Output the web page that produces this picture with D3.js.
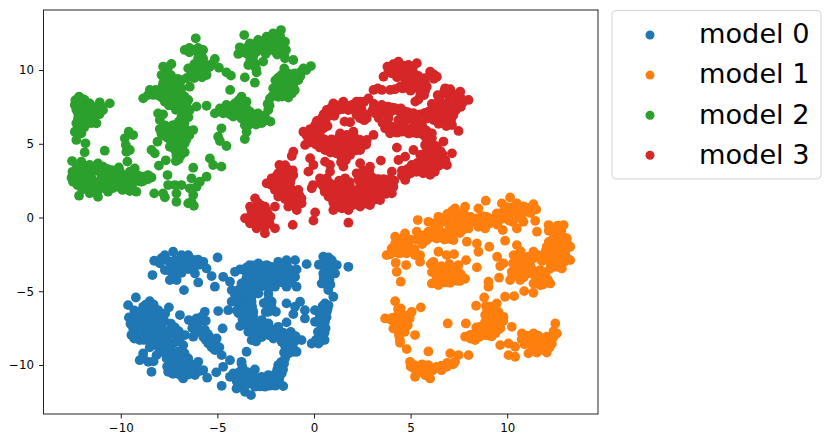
<!DOCTYPE html>
<html><head><meta charset="utf-8">
<script src="https://cdn.jsdelivr.net/npm/d3@7"></script>
<style>html,body{margin:0;padding:0;background:#fff}svg{display:block}text{font-family:"DejaVu Sans",sans-serif}</style>
</head><body><svg id="c" width="830" height="444"></svg>
<script>
const legendLabels=["model 0","model 1","model 2","model 3"];
const colors=["#1f77b4","#ff7f0e","#2ca02c","#d62728"];
const xTicks=[-10,-5,0,5,10];
const yTicks=[-10,-5,0,5,10];
const model0=[[-8.27,-2.93],[-7.72,-2.55],[-7.29,-2.32],[-6.86,-2.55],[-6.51,-2.55],[-7.98,-3.11],[-7.46,-3.0],[-6.94,-3.11],[-6.16,-3.11],[-5.73,-3.0],[-8.36,-3.9],[-7.72,-3.56],[-7.2,-3.56],[-6.25,-3.45],[-5.56,-3.45],[-7.46,-4.24],[-7.11,-4.24],[-6.16,-3.79],[-5.3,-3.97],[-5.99,-4.4],[-6.73,-4.92],[-5.13,-4.69],[-4.99,-2.71],[-9.22,-5.42],[-9.62,-5.94],[-9.58,-6.77],[-8.5,-5.67],[-8.84,-6.05],[-8.06,-6.28],[-7.51,-6.09],[-9.1,-6.61],[-8.58,-6.61],[-8.15,-6.84],[-6.94,-6.61],[-9.36,-7.52],[-8.93,-7.29],[-8.41,-7.41],[-7.89,-7.41],[-7.2,-7.45],[-9.45,-7.97],[-9.02,-8.31],[-8.5,-8.08],[-7.98,-7.97],[-7.55,-8.31],[-7.11,-8.42],[-6.68,-7.97],[-6.77,-8.65],[-8.06,-8.76],[-7.63,-8.99],[-7.03,-9.1],[-8.84,-9.21],[-9.02,-9.67],[-8.58,-9.78],[-8.15,-9.33],[-7.63,-9.55],[-8.41,-10.46],[-7.37,-9.89],[-6.86,-9.67],[-6.51,-9.55],[-7.55,-10.46],[-7.11,-10.57],[-6.77,-10.91],[-6.42,-10.34],[-5.99,-9.78],[-5.73,-10.34],[-6.16,-10.68],[-5.53,-10.86],[-5.06,-10.5],[-4.78,-11.41],[-4.7,-10.12],[-6.48,-6.95],[-6.08,-6.84],[-5.65,-6.39],[-5.99,-7.52],[-5.73,-8.08],[-6.25,-8.08],[-5.47,-8.54],[-5.04,-8.2],[-5.13,-8.99],[-4.78,-9.33],[-4.35,-9.67],[-4.96,-6.34],[-4.73,-7.52],[-4.44,-6.28],[-4.26,-5.71],[-4.26,-4.92],[-4.35,-4.35],[-4.7,-4.02],[-4.09,-3.68],[-3.83,-3.52],[-3.32,-3.22],[-2.88,-3.11],[-2.45,-3.22],[-1.85,-3.0],[-1.42,-2.89],[-0.98,-2.89],[-3.23,-3.79],[-2.71,-3.79],[-2.19,-3.68],[-1.67,-3.56],[-1.16,-3.56],[-0.9,-3.52],[-1.85,-4.24],[-1.33,-4.13],[-0.98,-4.02],[-3.75,-4.47],[-3.23,-4.35],[-2.71,-4.35],[-2.02,-4.69],[-1.42,-4.69],[-0.9,-4.69],[-3.4,-5.03],[-2.88,-5.15],[-2.36,-5.15],[-3.66,-5.71],[-3.23,-5.71],[-2.19,-5.71],[-3.57,-6.39],[-3.14,-6.39],[-2.36,-6.39],[-1.97,-6.39],[-3.83,-7.36],[-3.32,-6.95],[-2.88,-7.18],[-2.36,-7.18],[-1.85,-7.41],[-1.42,-7.11],[-3.23,-8.31],[-2.88,-8.08],[-2.36,-7.97],[-1.85,-8.08],[-1.33,-7.97],[-0.9,-8.31],[-0.64,-8.31],[-1.33,-8.76],[-0.9,-9.1],[-1.67,-8.42],[-3.49,-9.1],[-3.75,-9.78],[-1.42,-5.82],[-0.98,-6.05],[-0.72,-5.71],[-1.07,-6.55],[-0.47,-6.28],[-0.47,-6.84],[0.05,-6.28],[0.05,-7.07],[0.57,-5.82],[0.66,-6.39],[0.57,-7.07],[0.4,-7.52],[0.48,-8.08],[0.23,-8.54],[-0.12,-8.54],[0.48,-2.66],[0.92,-2.89],[1.18,-3.22],[1.78,-3.34],[-0.38,-3.16],[0.48,-3.79],[1.09,-3.79],[0.4,-4.47],[0.74,-4.92],[1.0,-5.37],[-4.18,-10.57],[-4.35,-10.8],[-3.75,-9.89],[-3.49,-10.46],[-3.06,-10.3],[-3.83,-11.02],[-3.23,-11.25],[-2.71,-10.8],[-2.36,-10.68],[-1.85,-10.0],[-1.5,-9.55],[-1.67,-10.57],[-2.02,-11.02],[-1.59,-11.43],[-2.54,-11.47],[-3.06,-11.47],[-4.01,-11.59],[-3.57,-11.81],[-3.26,-12.04],
[-7.6,-2.9],[-7.2,-2.9],[-6.8,-2.9],[-7.4,-3.35],[-6.6,-3.2],[-6.5,-3.5],[-7.3,-3.9],[-5.95,-3.2],[-8.6,-6.1],[-8.3,-6.3],[-8.8,-6.6],[-8.35,-6.7],[-8.9,-6.95],[-8.5,-7.0],[-8.1,-7.15],[-7.75,-7.0],[-9.15,-7.3],[-8.7,-7.5],[-8.1,-7.6],[-7.7,-7.7],[-9.2,-7.75],[-8.7,-7.9],[-8.3,-7.9],[-7.7,-8.15],[-8.2,-8.3],[-7.85,-8.4],[-8.8,-8.3],[-7.35,-8.6],[-7.75,-8.7],[-7.5,-9.3],[-7.2,-9.4],[-6.9,-9.95],[-7.3,-10.2],[-6.9,-10.3],[-6.6,-10.0],[-6.35,-9.95],[-6.1,-10.2],[-6.5,-10.65],[-7.0,-9.4],[-6.7,-9.2],[-8.85,-9.5],[-8.3,-9.75],[-6.2,-7.2],[-5.9,-7.0],[-5.85,-7.8],[-5.6,-8.3],[-5.3,-8.8],[-6.05,-7.5],[-5.65,-7.6],[-3.6,-3.6],[-3.0,-3.5],[-2.6,-3.5],[-2.2,-3.35],[-1.8,-3.35],[-1.4,-3.25],[-3.5,-4.1],[-3.0,-4.05],[-2.5,-4.05],[-2.1,-4.05],[-1.6,-3.95],[-1.3,-3.85],[-1.65,-4.4],[-1.15,-4.4],[-3.55,-4.75],[-3.15,-4.8],[-2.65,-4.65],[-3.9,-4.9],[-3.5,-5.35],[-3.2,-5.3],[-3.9,-5.4],[-3.5,-6.0],[-3.2,-6.05],[-3.85,-6.05],[-3.55,-6.7],[-3.15,-6.7],[-2.7,-6.95],[-3.5,-7.3],[-3.1,-7.4],[-2.65,-7.5],[-2.1,-7.6],[-2.6,-7.9],[-3.0,-8.4],[-1.6,-7.8],[-1.6,-8.1],[-1.1,-8.3],[-1.1,-8.7],[-1.5,-8.7],[-3.4,-7.75],[-3.9,-10.5],[-3.9,-10.8],[-3.5,-10.9],[-3.1,-10.8],[-2.8,-11.1],[-2.4,-11.1],[-2.0,-10.6],[-1.7,-10.1],[-1.7,-9.8],[-3.5,-11.3],[-2.0,-11.4],[-3.6,-11.5],[-1.55,-9.9],[0.45,-6.0],[0.3,-6.7],[0.4,-7.3],[0.6,-7.5],[0.3,-8.0],[0.1,-8.3],[0.55,-7.8],[0.75,-5.95],[0.7,-3.3],[1.0,-3.3],[0.6,-3.0],[0.8,-3.55],[0.5,-4.1],[0.8,-4.2],[0.25,-3.2],
[-9.3,-6.3],[-9.3,-6.9],[-9.5,-7.2],[-9.0,-7.7],[-9.3,-8.2],[-8.4,-8.5],[-9.0,-6.4],[-8.7,-5.9],[-8.3,-5.9],[-8.0,-6.6],[-7.7,-6.5],[-7.8,-8.0],[-7.4,-7.2],[-7.5,-7.8],[-7.2,-7.9],[-7.0,-7.7],[-6.95,-8.2],[-8.5,-8.8],[-7.9,-9.1],[-7.4,-9.1],[-6.75,-9.5],[-7.1,-9.8],[-7.6,-10.1],[-7.3,-10.6],[-6.6,-10.4],[-6.3,-10.4],[-6.9,-10.7],[-5.9,-10.4],[-6.3,-7.5],[-5.6,-7.0],[-5.8,-6.7],[-5.4,-8.1],[-5.1,-8.5],[-4.9,-8.8],[-5.5,-7.9],[-6.3,-2.85],[-6.0,-2.85],[-7.9,-2.75],[-7.5,-3.6],[-7.0,-3.4],[-6.85,-3.75],[-3.5,-3.4],[-3.1,-3.25],[-2.7,-3.3],[-3.4,-4.4],[-3.0,-4.6],[-2.5,-4.4],[-2.25,-4.4],[-1.95,-3.8],[-2.3,-4.7],[-1.2,-4.4],[-3.95,-5.7],[-3.6,-5.2],[-3.3,-5.5],[-3.65,-6.35],[-3.9,-6.5],[-3.45,-6.95],[-3.1,-7.1],[-4.1,-5.2],[-4.0,-6.3],[-3.7,-6.9],[-3.2,-7.0],[-2.35,-5.5],[-2.2,-6.05],[-2.6,-5.8],[-2.5,-6.4],[-3.3,-7.7],[-2.95,-7.7],[-2.3,-7.6],[-1.95,-7.85],[-3.05,-8.05],[-2.7,-8.1],[-2.1,-8.2],[-1.5,-8.35],[-1.2,-7.75],[-0.95,-8.05],[-1.25,-8.35],[-1.55,-9.15],[-1.3,-9.2],[-1.05,-9.1],[-3.7,-10.15],[-3.3,-10.7],[-3.0,-11.1],[-2.6,-10.95],[-2.2,-10.9],[-1.8,-10.9],[-1.8,-11.2],[-2.3,-11.4],[-2.8,-11.45],[-3.7,-11.1],[-4.0,-11.1],[-1.6,-10.3],[-1.9,-10.3],[0.35,-6.3],[0.7,-6.2],[0.65,-6.75],[0.3,-7.15],[0.5,-7.35],[0.2,-7.75],[0.55,-8.3],[0.35,-8.35],[0.75,-2.7],[0.6,-3.5],[0.4,-3.2],[0.95,-3.1],[0.75,-3.85],[0.55,-4.5],[0.85,-4.55]];
const model1=[[5.37,-0.17],[3.76,-2.55],[4.2,-1.3],[4.71,-1.08],[4.02,-2.09],[4.45,-1.76],[4.89,-1.87],[5.32,-0.96],[4.37,-2.43],[4.8,-2.43],[5.23,-2.55],[5.49,-2.55],[5.92,-0.29],[6.44,0.05],[5.92,-0.96],[6.44,-0.63],[6.87,-0.06],[7.3,0.62],[7.82,0.73],[6.79,-1.08],[6.35,-1.42],[5.84,-1.53],[7.22,-1.53],[7.39,-0.17],[7.82,-0.06],[7.39,-0.85],[8.0,-0.74],[8.51,0.62],[8.89,1.14],[8.43,-0.06],[8.94,0.05],[9.46,0.28],[9.72,0.96],[10.15,1.36],[11.36,0.91],[10.93,0.39],[10.5,0.96],[10.15,0.28],[10.84,-0.29],[10.5,-0.74],[9.77,-0.85],[11.45,-0.22],[11.54,-0.96],[8.86,-0.74],[8.51,-0.63],[7.91,-1.64],[8.43,-1.76],[8.51,-2.32],[9.07,-1.98],[9.89,-1.57],[9.48,-2.66],[9.64,-3.29],[8.43,-3.38],[7.87,-2.89],[4.23,-3.07],[4.28,-3.68],[4.49,-4.35],[4.77,-3.22],[5.49,-3.0],[6.44,-2.32],[6.87,-2.55],[7.25,-2.48],[6.18,-3.0],[6.61,-3.56],[7.13,-3.45],[7.48,-3.22],[6.35,-4.02],[6.87,-4.13],[7.39,-4.02],[7.82,-4.15],[6.1,-4.47],[6.44,-4.58],[7.05,-4.42],[12.14,-0.51],[12.92,-0.51],[12.57,-0.96],[13.09,-1.42],[13.26,-1.98],[12.66,-1.64],[12.05,-1.98],[12.31,-2.43],[13.26,-2.89],[12.83,-3.45],[12.31,-2.89],[12.23,-3.45],[10.5,-1.87],[10.33,-2.55],[11.36,-2.32],[10.84,-2.77],[10.24,-3.68],[10.76,-3.56],[11.19,-3.22],[11.71,-3.56],[10.15,-4.24],[10.67,-4.24],[11.54,-4.13],[12.23,-4.47],[11.36,-4.47],[11.71,-4.58],[10.88,-4.99],[11.36,-5.1],[9.81,-3.11],[9.58,-4.08],[9.03,-4.35],[9.03,-4.69],[8.81,-5.42],[9.89,-5.37],[10.36,-5.33],[8.39,-5.98],[9.46,-5.82],[9.12,-6.05],[8.86,-6.61],[9.29,-6.73],[9.81,-6.73],[8.6,-7.41],[9.03,-7.41],[9.55,-7.18],[10.24,-7.41],[8.34,-7.86],[8.86,-7.97],[9.38,-7.86],[7.82,-8.08],[8.34,-8.31],[7.86,-7.18],[6.92,-7.18],[10.07,-8.54],[9.64,-8.65],[10.41,-8.76],[10.76,-7.86],[11.36,-7.86],[11.1,-8.42],[11.62,-8.31],[12.05,-8.08],[12.49,-7.18],[12.57,-7.86],[12.31,-8.54],[12.05,-9.15],[11.54,-9.15],[11.1,-9.21],[10.41,-9.44],[10.07,-9.33],[4.2,-5.67],[4.49,-6.16],[5.06,-6.39],[5.53,-6.09],[3.68,-6.84],[4.2,-6.95],[4.71,-7.07],[4.11,-7.52],[4.45,-7.74],[5.23,-7.97],[4.45,-8.31],[4.8,-8.92],[5.92,-9.08],[4.97,-9.78],[5.4,-10.12],[5.23,-10.8],[5.92,-10.0],[5.75,-10.68],[6.01,-10.91],[6.35,-10.12],[6.87,-10.12],[7.05,-9.21],[7.48,-9.33],[8.0,-9.33],[7.3,-9.78],
[4.5,-2.1],[4.75,-2.15],[4.2,-2.35],[4.6,-1.4],[5.0,-1.5],[5.3,-1.5],[5.7,-1.2],[5.6,-1.8],[6.1,-1.1],[6.2,-0.4],[6.6,-0.3],[6.6,-1.0],[7.0,-0.5],[7.0,-0.9],[7.0,-1.45],[6.75,-1.5],[7.2,0.1],[7.6,0.3],[7.6,-0.4],[7.95,-0.3],[8.2,-0.3],[7.55,-1.05],[8.65,-0.3],[9.1,-0.4],[9.3,-0.1],[9.7,-0.1],[9.75,0.35],[10.0,0.7],[10.3,0.7],[10.5,0.35],[10.85,0.75],[11.1,0.65],[10.75,-0.1],[10.3,-0.3],[8.95,-0.3],[6.5,-3.9],[6.8,-3.7],[7.1,-3.85],[7.45,-3.6],[6.7,-4.4],[6.9,-4.4],[7.4,-4.3],[6.3,-3.5],[6.6,-4.2],[12.4,-0.8],[12.8,-0.9],[12.9,-1.3],[12.4,-1.4],[12.9,-1.75],[12.4,-1.9],[12.8,-2.3],[13.0,-2.4],[12.0,-2.6],[12.6,-2.85],[12.95,-3.0],[12.55,-3.35],[11.8,-2.95],[11.4,-2.75],[11.1,-2.65],[10.7,-2.3],[10.65,-3.05],[11.05,-3.8],[11.4,-3.9],[10.5,-3.9],[10.85,-4.05],[11.85,-4.05],[12.0,-3.7],[10.4,-3.3],[12.1,-4.2],[11.85,-4.55],[9.1,-6.3],[9.3,-6.2],[9.05,-6.9],[8.85,-7.1],[9.45,-7.35],[8.6,-7.8],[9.1,-7.75],[9.05,-8.0],[8.55,-8.1],[8.1,-7.95],[9.7,-6.95],[9.3,-7.1],[10.9,-8.15],[11.3,-8.15],[11.4,-8.6],[11.8,-8.6],[12.2,-8.25],[12.4,-7.7],[10.9,-8.6],[11.7,-8.95],[12.2,-8.8],[11.3,-8.9],[4.35,-6.6],[4.75,-6.65],[4.5,-7.2],[4.25,-7.3],[4.85,-7.3],[4.55,-7.5],[4.4,-8.0],[4.0,-6.95],[5.2,-10.0],[5.6,-10.2],[5.4,-10.5],[5.95,-10.35],[6.6,-10.05],[6.9,-9.85],[7.2,-9.95],[5.15,-10.2],
[4.2,-1.75],[4.7,-1.75],[3.95,-2.5],[4.55,-2.4],[5.0,-2.2],[5.2,-2.15],[5.6,-1.4],[5.95,-1.4],[6.2,-0.85],[6.45,-1.25],[6.9,-1.25],[7.15,-1.2],[6.5,0.0],[6.9,0.25],[7.15,0.45],[7.45,0.0],[7.75,0.3],[8.1,0.05],[7.25,-0.55],[7.75,-0.8],[8.7,0.1],[9.2,-0.1],[9.5,-0.5],[9.45,-0.05],[9.9,0.0],[10.1,-0.2],[10.6,0.1],[11.2,0.3],[11.5,0.55],[6.1,-3.7],[6.35,-4.3],[6.6,-3.3],[7.0,-3.15],[7.3,-3.7],[7.6,-3.85],[6.05,-3.15],[6.9,-4.15],[7.55,-4.3],[12.15,-0.9],[12.6,-0.55],[13.1,-1.75],[13.0,-2.0],[12.65,-2.1],[12.15,-1.65],[12.0,-2.25],[11.85,-2.55],[11.6,-2.55],[11.0,-2.95],[10.95,-3.35],[10.45,-2.85],[10.3,-3.1],[10.25,-4.0],[10.55,-3.65],[11.3,-3.55],[11.7,-3.9],[12.2,-3.0],[12.7,-3.15],[13.1,-2.75],[13.0,-2.65],[12.45,-2.55],[10.9,-3.7],[8.9,-6.0],[9.4,-6.45],[8.95,-6.35],[9.55,-6.4],[9.3,-6.5],[9.0,-7.15],[9.3,-7.55],[8.7,-7.6],[8.4,-7.45],[9.65,-7.5],[8.3,-8.1],[8.1,-8.2],[9.55,-7.6],[9.2,-8.05],[9.8,-7.0],[10.75,-8.25],[11.0,-8.0],[11.6,-8.0],[11.95,-8.4],[12.4,-8.1],[12.0,-8.8],[11.5,-8.85],[11.25,-8.2],[12.5,-7.9],[4.05,-6.8],[4.5,-6.6],[4.6,-6.85],[4.3,-7.1],[4.65,-7.3],[4.35,-7.7],[4.7,-7.75],[4.95,-6.85],[4.35,-6.2],[4.45,-8.5],[5.0,-10.1],[5.3,-10.35],[5.6,-9.95],[6.15,-10.35],[6.6,-10.35]];
const model2=[[-12.16,8.19],[-11.87,7.97],[-12.38,7.63],[-12.04,7.63],[-11.61,7.74],[-11.09,7.81],[-10.57,7.74],[-12.13,7.18],[-11.69,7.29],[-11.26,7.29],[-10.92,7.29],[-12.21,6.72],[-11.78,6.72],[-11.43,6.72],[-12.3,6.39],[-11.69,6.39],[-11.26,6.39],[-12.38,5.82],[-12.04,5.71],[-12.3,5.26],[-11.83,5.03],[-11.87,4.42],[-12.52,3.83],[-10.83,4.53],[-12.04,3.79],[-11.61,3.56],[-11.18,3.67],[-12.3,3.33],[-11.87,3.22],[-11.43,3.11],[-10.92,3.45],[-10.48,3.22],[-10.05,3.11],[-9.53,3.11],[-9.28,3.33],[-9.66,3.79],[-12.38,2.88],[-11.95,2.66],[-11.52,2.66],[-11.0,2.77],[-10.57,2.66],[-10.14,2.66],[-9.71,2.66],[-9.19,2.66],[-8.84,2.77],[-8.59,2.88],[-8.41,2.72],[-12.47,2.43],[-12.04,2.2],[-11.61,2.09],[-11.09,2.2],[-10.66,2.2],[-10.23,2.32],[-9.79,2.32],[-9.36,2.32],[-8.93,2.43],[-12.16,1.48],[-11.61,1.64],[-11.18,1.41],[-10.66,1.75],[-9.91,1.87],[-9.53,1.8],[-9.19,1.75],[-9.59,5.82],[-9.36,5.59],[-9.79,5.37],[-9.74,4.92],[-9.53,4.58],[-9.71,4.46],[-8.41,4.58],[-8.24,4.35],[-8.1,5.14],[-7.67,3.88],[-8.03,3.52],[-7.58,2.88],[-8.27,1.64],[-7.81,1.64],[-7.72,1.37],[-7.55,2.2],[-7.2,2.2],[-6.86,2.2],[-7.12,1.64],[-7.12,1.07],[-6.25,3.38],[-6.34,2.66],[-5.91,2.43],[-5.56,2.77],[-6.08,2.09],[-6.43,1.98],[-6.25,1.53],[-6.34,1.07],[-6.51,0.96],[-6.22,0.8],[-5.39,4.01],[-5.22,3.56],[-4.79,3.45],[-4.79,6.05],[-4.96,5.48],[-4.87,5.19],[-4.53,4.85],[-7.72,5.93],[-7.29,6.27],[-6.86,6.16],[-6.25,5.93],[-7.98,6.0],[-7.55,5.37],[-7.12,5.59],[-6.69,5.48],[-7.46,4.8],[-7.03,4.92],[-6.69,5.03],[-6.69,4.42],[-7.12,4.24],[-7.15,3.83],[-6.86,6.84],[-6.69,6.95],[-8.07,7.06],[-7.81,7.0],[-7.98,6.61],[-7.81,10.23],[-7.38,10.41],[-7.89,9.66],[-7.63,9.78],[-7.81,9.1],[-7.38,9.21],[-6.86,9.32],[-6.43,8.87],[-8.5,8.65],[-8.84,8.08],[-8.33,8.31],[-7.98,8.53],[-7.55,8.53],[-7.12,8.53],[-7.72,7.85],[-7.29,7.97],[-6.94,7.85],[-6.51,7.97],[-6.86,7.4],[-6.43,7.29],[-6.08,7.52],[-5.56,7.58],[-7.72,8.87],[-7.29,8.87],[-6.86,8.76],[-6.12,12.15],[-6.69,11.36],[-6.25,11.36],[-5.74,11.36],[-6.0,10.79],[-5.74,10.79],[-6.51,10.11],[-6.0,10.23],[-5.56,10.23],[-6.0,9.66],[-5.56,9.66],[-6.43,9.55],[-5.13,10.75],[-4.92,10.16],[-4.53,9.84],[-4.3,9.62],[-4.34,8.65],[-3.58,9.5],[-3.06,9.14],[-3.61,12.37],[-3.84,11.54],[-3.92,11.09],[-3.32,11.81],[-2.89,12.04],[-2.45,12.26],[-2.11,12.49],[-1.71,12.71],[-3.15,11.47],[-2.71,11.7],[-2.28,11.81],[-1.85,11.92],[-1.5,11.92],[-3.32,11.02],[-2.8,11.36],[-2.28,11.36],[-1.76,11.24],[-1.45,11.36],[-3.4,10.34],[-3.15,10.34],[-2.97,9.84],[-2.63,10.57],[-1.5,10.79],[-1.07,10.68],[-0.16,10.27],[-0.55,10.11],[-0.99,9.78],[-1.54,10.11],[-1.85,9.48],[-1.24,9.44],[-0.81,9.32],[-1.59,8.98],[-1.07,8.87],[-2.11,8.76],[-1.59,8.42],[-0.99,8.64],[-2.28,8.08],[-1.85,8.19],[-1.33,8.13],[-2.37,7.29],[-5.13,7.06],[-4.87,7.4],[-4.53,7.63],[-4.1,7.74],[-3.75,8.19],[-3.49,7.85],[-4.7,7.06],[-4.27,7.18],[-3.84,7.29],[-3.32,7.18],[-2.89,7.06],[-4.18,6.84],[-3.75,6.72],[-3.32,6.61],[-2.89,6.39],[-2.45,6.61],[-2.25,6.5],[-3.58,6.27],[-3.49,5.82],[-3.58,5.32],[-2.8,6.84],
[-12.2,7.4],[-11.85,7.4],[-11.45,7.5],[-11.9,7.0],[-11.5,7.0],[-11.1,7.0],[-12.2,7.0],[-12.0,6.45],[-11.9,6.1],[-12.2,6.1],[-12.1,3.5],[-11.7,3.2],[-11.3,3.4],[-10.7,3.3],[-10.3,3.0],[-9.9,2.9],[-9.4,2.9],[-12.2,3.0],[-11.9,2.9],[-11.7,2.9],[-12.2,2.6],[-11.7,2.4],[-11.3,2.4],[-10.85,2.45],[-10.4,2.45],[-9.95,2.5],[-9.5,2.5],[-9.1,2.5],[-12.25,2.2],[-11.85,2.0],[-11.35,2.0],[-10.9,2.0],[-12.0,1.9],[-7.5,6.0],[-7.1,6.0],[-6.6,5.9],[-7.3,5.6],[-6.9,5.3],[-7.3,5.1],[-6.45,5.6],[-7.2,4.6],[-6.9,4.6],[-6.9,4.2],[-7.0,6.5],[-6.7,6.4],[-7.9,5.7],[-8.1,8.3],[-7.75,8.2],[-7.4,8.2],[-7.1,8.2],[-6.8,8.3],[-8.6,8.3],[-7.5,7.6],[-7.2,7.6],[-6.7,7.6],[-7.6,9.5],[-7.5,9.0],[-7.1,9.0],[-7.6,10.0],[-7.75,9.4],[-7.05,9.4],[-6.65,7.55],[-6.45,11.2],[-6.0,11.15],[-5.85,11.0],[-5.9,10.5],[-5.7,10.5],[-6.2,10.1],[-5.75,9.95],[-6.2,9.7],[-5.8,9.5],[-6.2,9.45],[-6.6,9.45],[-5.3,10.4],[-3.0,11.8],[-2.6,12.0],[-2.3,12.1],[-2.0,12.1],[-1.75,12.3],[-3.5,11.5],[-3.0,11.2],[-2.5,11.5],[-2.05,11.5],[-1.6,11.6],[-3.15,10.9],[-3.2,10.6],[-3.0,10.1],[-2.5,11.1],[-1.9,11.05],[-1.55,11.05],[-1.9,9.1],[-1.6,9.4],[-1.2,9.15],[-0.7,9.6],[-1.35,9.75],[-1.85,8.6],[-1.35,8.55],[-2.0,8.35],[-2.4,7.7],[-1.6,8.75],[-1.0,9.2],[-0.4,10.0],[-4.6,7.35],[-4.3,7.45],[-4.0,7.45],[-3.7,7.6],[-3.9,7.95],[-3.5,7.4],[-3.05,7.0],[-4.05,7.1],[-3.6,6.95],[-3.1,6.7],[-3.5,6.5],[-2.7,6.4],[-2.6,6.7],[-3.0,6.3],
[-12.5,3.1],[-12.55,2.7],[-12.1,2.5],[-11.8,2.5],[-12.3,2.7],[-11.7,3.5],[-10.8,3.0],[-10.6,3.0],[-10.1,3.4],[-10.9,2.6],[-9.3,3.0],[-10.0,2.0],[-10.4,2.0],[-11.2,1.8],[-10.3,2.8],[-9.1,2.85],[-8.8,2.5],[-8.6,2.6],[-9.75,2.1],[-11.55,1.85],[-12.15,2.85],[-11.15,3.15],[-12.35,7.95],[-12.0,8.05],[-12.3,7.3],[-12.0,6.95],[-11.65,7.05],[-11.45,7.15],[-11.0,7.5],[-12.1,6.4],[-11.5,6.4],[-12.05,6.75],[-11.95,7.25],[-7.7,5.5],[-7.4,5.7],[-7.7,6.25],[-7.3,5.35],[-7.0,5.65],[-6.6,5.3],[-7.2,4.9],[-6.8,4.85],[-7.25,5.95],[-6.85,5.8],[-6.4,5.85],[-7.0,4.4],[-7.0,3.95],[-6.95,6.3],[-8.2,8.65],[-7.9,8.15],[-7.55,7.85],[-7.1,7.85],[-6.7,8.2],[-7.5,8.8],[-7.05,8.7],[-7.85,8.85],[-7.6,9.25],[-7.55,10.2],[-7.4,9.65],[-7.0,8.3],[-6.6,7.7],[-7.15,7.3],[-6.5,6.8],[-6.65,7.2],[-6.45,11.5],[-6.0,11.5],[-5.85,10.1],[-5.9,9.8],[-6.2,10.4],[-5.4,10.2],[-6.3,9.75],[-3.0,11.5],[-2.6,11.85],[-2.2,11.6],[-1.9,11.7],[-1.7,11.55],[-2.0,11.25],[-2.45,11.55],[-3.4,11.2],[-3.55,11.15],[-3.3,10.7],[-3.05,10.45],[-2.15,12.2],[-1.7,9.65],[-1.25,9.7],[-0.95,9.5],[-0.7,9.85],[-1.45,9.1],[-1.3,8.85],[-1.8,8.85],[-1.9,8.3],[-1.65,8.2],[-2.15,8.25],[-1.15,8.4],[-2.0,9.3],[-2.3,7.6],[-4.6,7.15],[-4.05,7.3],[-3.65,7.15],[-3.05,6.85],[-3.85,7.0],[-3.5,6.75],[-3.4,6.25],[-3.05,6.5],[-2.65,6.55],[-4.35,7.0],[-3.95,7.65],[-2.55,6.9],[-3.7,7.85]];
const model3=[[-3.57,-0.05],[-3.31,0.74],[-3.05,1.3],[-3.23,0.29],[-2.88,0.51],[-2.54,0.74],[-2.02,0.74],[-3.31,-0.39],[-2.88,-0.28],[-2.45,-0.17],[-2.02,-0.73],[-2.54,-1.07],[-2.97,-0.73],[-2.45,2.32],[-2.19,2.66],[-1.79,3.56],[-1.85,3.0],[-1.41,3.34],[-2.02,1.87],[-1.59,2.43],[-1.07,2.89],[-1.24,2.32],[-0.81,1.87],[-1.85,1.42],[-1.41,1.64],[-0.98,1.3],[-0.64,0.96],[-0.89,0.51],[-1.33,0.74],[-1.07,4.47],[-1.15,4.17],[0.06,0.35],[-0.03,-0.21],[-1.1,-0.5],[1.78,-0.35],[-0.12,1.98],[0.31,2.66],[0.66,2.66],[0.49,2.09],[0.92,1.87],[1.35,2.09],[1.61,2.66],[1.87,2.09],[0.75,1.42],[1.18,1.3],[1.61,1.42],[2.04,1.42],[1.0,0.51],[1.44,0.63],[1.78,0.51],[2.39,0.74],[2.9,0.85],[3.42,1.19],[4.03,1.64],[4.11,2.09],[2.56,1.64],[2.99,1.64],[3.51,1.87],[3.85,2.32],[2.99,2.32],[2.56,2.21],[2.21,3.0],[2.39,3.68],[2.9,3.45],[2.9,2.89],[2.39,2.32],[-0.2,4.02],[-0.03,3.56],[-0.29,3.11],[0.57,3.79],[0.83,3.56],[0.83,3.11],[1.52,3.45],[3.46,3.86],[4.03,3.11],[4.55,3.18],[4.29,4.74],[4.37,3.9],[4.72,4.13],[4.72,2.55],[5.15,4.58],[5.06,3.56],[5.58,3.45],[6.01,2.89],[5.75,4.92],[6.1,4.58],[6.7,5.15],[6.45,3.9],[7.14,4.35],[6.88,3.56],[5.93,3.9],[5.5,4.24],[6.27,3.34],[-0.55,5.82],[-0.46,4.92],[-0.03,5.48],[0.4,5.26],[0.83,5.03],[1.26,5.37],[1.7,5.26],[2.04,5.82],[2.39,5.26],[2.73,5.26],[3.08,5.6],[0.92,4.58],[1.44,4.58],[1.96,4.69],[2.39,4.58],[1.44,4.02],[1.87,4.24],[0.57,4.58],[0.06,6.27],[0.4,6.73],[0.66,7.29],[1.0,7.74],[1.52,7.86],[1.96,7.63],[2.39,7.86],[0.83,6.95],[1.26,7.29],[1.78,7.29],[0.49,6.05],[2.39,6.73],[2.56,7.07],[1.87,6.46],[1.58,6.5],[3.08,8.65],[3.51,8.65],[3.94,8.65],[4.46,8.87],[4.98,8.87],[2.82,8.08],[3.08,7.41],[3.51,7.63],[3.85,7.52],[3.16,7.07],[2.73,6.73],[3.34,6.95],[4.2,7.41],[4.72,7.18],[5.15,7.07],[5.58,8.65],[5.24,7.86],[5.67,9.21],[3.85,6.73],[4.03,6.16],[3.68,6.05],[4.37,6.61],[4.8,6.61],[5.24,6.39],[3.94,5.71],[4.55,5.82],[5.06,6.05],[5.75,5.94],[6.1,5.71],[6.1,5.37],[5.32,5.71],[4.37,10.57],[3.8,10.23],[3.6,9.55],[4.03,9.78],[4.89,10.34],[5.32,10.46],[4.55,9.89],[5.06,9.66],[5.5,9.33],[6.01,9.89],[6.36,9.55],[4.72,9.33],[5.24,9.1],[5.84,8.87],[6.79,8.76],[6.45,7.86],[5.93,7.18],[6.45,7.18],[6.96,7.29],[6.19,6.61],[6.7,6.61],[7.14,6.27],[7.48,5.87],[7.14,8.42],[7.57,8.53],[8.0,7.97],[7.4,7.63],[7.22,6.95],[6.88,7.74],
[-3.1,0.2],[-2.7,0.2],[-2.4,0.3],[-3.1,-0.2],[-2.65,-0.4],[-2.3,-0.4],[-2.7,0.8],[-2.9,1.0],[-1.6,3.0],[-1.85,2.5],[-1.4,2.8],[-2.0,2.3],[-1.6,1.95],[-1.15,1.9],[-1.5,1.25],[-1.2,1.3],[-0.95,0.95],[-1.2,0.95],[-1.6,3.3],[0.85,2.3],[1.2,1.7],[1.55,1.85],[1.0,1.0],[1.4,1.0],[1.8,1.0],[2.2,1.1],[0.55,1.75],[2.3,1.9],[2.65,1.2],[3.1,1.2],[3.0,2.0],[3.3,2.2],[2.7,1.9],[3.7,1.6],[3.8,2.0],[2.7,2.7],[2.55,3.2],[3.35,2.6],[3.9,2.6],[1.3,2.5],[1.65,2.2],[1.85,1.7],[5.0,3.0],[5.3,3.1],[5.65,3.0],[5.9,3.4],[6.2,3.9],[6.3,4.3],[6.65,4.3],[6.0,4.2],[5.55,3.8],[5.2,3.2],[6.45,3.5],[5.85,4.6],[6.4,4.65],[6.8,3.9],[0.1,5.2],[0.5,5.0],[0.9,5.3],[1.2,4.95],[1.55,4.95],[1.9,5.1],[2.1,5.45],[1.7,5.6],[1.35,5.7],[1.1,4.6],[1.7,4.3],[1.65,3.9],[2.2,4.95],[0.3,5.7],[-0.3,5.4],[2.7,4.95],[0.6,4.7],[0.25,6.3],[0.6,6.6],[0.95,7.05],[1.3,7.6],[1.75,7.55],[2.15,7.6],[0.7,6.2],[2.2,7.2],[2.45,7.4],[-0.2,6.0],[0.2,5.9],[2.6,7.85],[3.3,7.3],[3.75,7.25],[4.4,7.2],[4.0,7.2],[4.9,6.9],[5.3,6.7],[4.6,6.9],[3.6,7.1],[3.35,6.75],[4.3,6.1],[4.65,6.2],[5.6,6.2],[4.3,5.75],[4.9,5.7],[5.6,5.65],[5.85,5.6],[4.1,10.4],[4.6,10.3],[5.1,10.1],[4.3,9.5],[4.8,9.6],[5.2,9.4],[4.9,9.0],[5.3,8.8],[5.4,9.6],[4.95,9.35],[5.75,8.6],[5.5,8.3],[5.4,8.0],[5.0,8.6],[6.2,9.7],[6.8,8.4],[6.5,8.0],[6.1,7.7],[6.2,7.4],[6.7,7.35],[7.1,7.0],[6.55,6.9],[6.0,6.8],[6.45,6.35],[6.85,6.2],[7.1,6.65],[5.8,6.7],[7.6,8.1],[7.45,7.9],[7.2,7.3],[6.4,7.6],
[-3.3,0.0],[-2.8,0.0],[-2.45,0.45],[-2.25,0.05],[-3.0,0.5],[-2.55,-0.65],[-2.8,-0.5],[-3.25,0.55],[-2.2,2.2],[-1.95,2.8],[-1.7,2.7],[-1.2,2.6],[-1.6,1.65],[-1.85,1.7],[-1.3,1.95],[-1.05,1.6],[-0.75,1.5],[-0.65,1.3],[-1.1,3.2],[-1.55,2.2],[-1.3,1.0],[-1.5,3.55],[-0.05,2.2],[0.35,2.3],[0.6,2.4],[0.65,2.0],[0.8,1.75],[1.0,1.6],[1.4,1.35],[0.95,1.25],[1.25,0.8],[1.55,0.75],[1.6,1.1],[2.0,0.85],[2.0,1.15],[2.35,1.35],[2.7,0.95],[2.25,1.65],[2.9,1.5],[3.25,1.55],[3.25,1.85],[3.55,2.2],[3.9,1.75],[2.8,2.5],[3.1,2.65],[3.6,2.6],[3.65,2.35],[4.15,2.5],[1.5,2.3],[1.85,2.4],[1.6,2.0],[1.1,2.2],[0.8,2.0],[2.5,2.7],[2.45,3.0],[2.85,3.2],[2.3,2.6],[4.8,2.85],[4.55,2.85],[4.85,3.3],[5.35,3.4],[5.35,3.7],[5.8,3.15],[5.8,3.75],[6.1,3.65],[6.1,4.0],[5.7,4.3],[5.9,4.9],[6.3,4.85],[6.4,4.05],[6.65,3.65],[6.55,4.5],[5.75,3.45],[6.25,3.1],[0.2,5.45],[0.55,5.3],[0.1,4.95],[0.3,4.75],[1.0,4.8],[1.35,5.15],[0.85,4.4],[1.15,4.35],[1.35,4.25],[1.65,4.65],[1.9,4.85],[2.15,4.55],[2.1,5.2],[1.65,5.0],[-0.2,5.1],[-0.1,5.75],[-0.4,5.6],[2.55,4.9],[1.4,3.75],[0.3,6.0],[0.15,6.55],[0.5,7.0],[0.9,7.45],[1.15,7.6],[1.55,7.6],[1.05,6.9],[0.55,6.35],[1.5,7.35],[1.95,7.35],[2.2,7.85],[2.5,6.9],[2.2,6.95],[2.6,6.6],[3.1,7.7],[3.0,7.2],[3.5,7.35],[4.05,7.45],[4.5,7.4],[4.85,7.15],[5.05,6.8],[5.5,7.0],[5.4,6.4],[3.55,6.4],[3.75,6.3],[5.1,5.75],[5.35,5.95],[4.7,5.85],[4.05,5.9],[5.85,5.85],[5.8,5.4],[4.6,8.75],[4.2,8.7],[3.3,8.75],[4.35,10.3],[3.85,9.9],[4.0,10.2],[4.75,10.1],[5.15,9.8],[4.7,9.85],[4.3,9.85],[4.5,9.7],[5.75,9.45],[6.2,9.4],[5.75,9.1],[5.35,9.1],[5.7,8.3],[5.5,8.8],[7.0,8.2],[7.3,8.1],[7.7,7.8],[7.6,7.5],[7.25,7.6],[6.9,7.45],[6.55,7.55],[6.2,7.0],[6.3,6.75],[6.8,6.85],[7.0,6.4],[6.0,7.1],[5.75,7.1],[7.05,8.7],[6.75,8.6],[6.4,8.3],[7.35,7.3]];
const series=[model0,model1,model2,model3];

const svg=d3.select("#c");
const L=43.5,R=598,T=10,B=414;
const x=d3.scaleLinear().domain([-14.0,14.7]).range([L,R]);
const y=d3.scaleLinear().domain([-13.32,14.07]).range([B,T]);
series.forEach((pts,i)=>{
  svg.append("g").selectAll("circle").data(pts).join("circle")
    .attr("cx",d=>x(d[0])).attr("cy",d=>y(d[1])).attr("r",4.9).attr("fill",colors[i]);
});
const gx=svg.append("g").attr("transform",`translate(0,${B})`).call(d3.axisBottom(x).tickValues(xTicks).tickSize(4.5).tickPadding(5).tickSizeOuter(0));
const gy=svg.append("g").attr("transform",`translate(${L},0)`).call(d3.axisLeft(y).tickValues(yTicks).tickSize(4.5).tickPadding(5).tickSizeOuter(0));
[gx,gy].forEach(g=>{g.selectAll("text").attr("font-size",11.8).attr("font-family","DejaVu Sans").attr("fill","#000");
  g.select(".domain").remove();g.selectAll("line").attr("stroke","#000").attr("stroke-width",0.9);});
svg.append("rect").attr("x",L).attr("y",T).attr("width",R-L).attr("height",B-T).attr("fill","none").attr("stroke","#222").attr("stroke-width",1);
const lg=svg.append("g");
lg.append("rect").attr("x",612).attr("y",10.5).attr("width",209).attr("height",168.5).attr("rx",4).attr("fill","#fff").attr("stroke","#d5d5d5").attr("stroke-width",1);
legendLabels.forEach((t,i)=>{
  const yy=35+i*40.1;
  lg.append("circle").attr("cx",650).attr("cy",yy).attr("r",4.5).attr("fill",colors[i]);
  lg.append("text").attr("x",699).attr("y",yy+8.3).attr("font-size",27.2).attr("fill","#000").text(t);
});
</script></body></html>
